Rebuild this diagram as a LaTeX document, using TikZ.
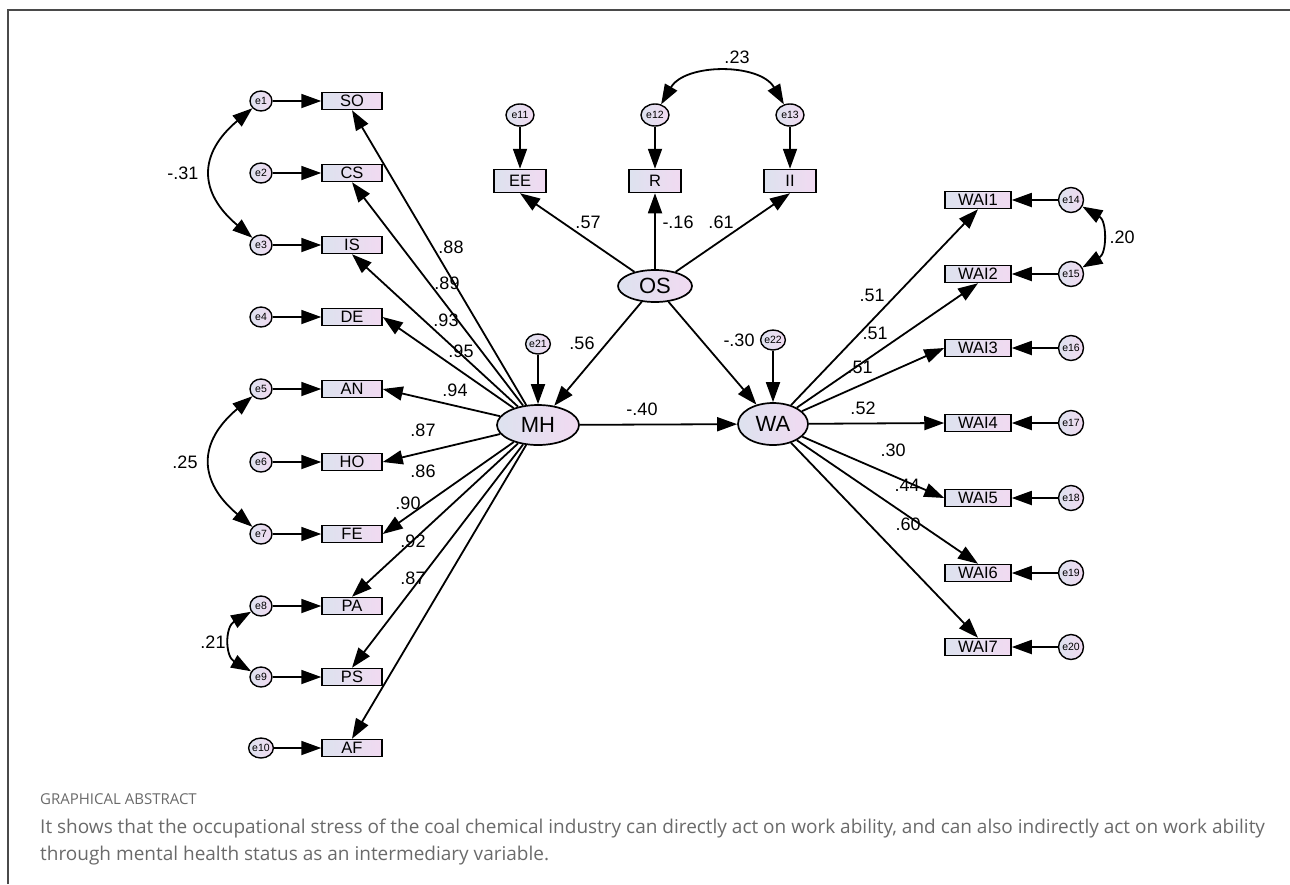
\documentclass[tikz,border=0pt]{standalone}
\usepackage{fontspec}
\setmainfont{Liberation Sans}
\newfontfamily\capfont{Open Sans}
\usetikzlibrary{arrows.meta,shapes.geometric}
\definecolor{fl}{HTML}{DDE2EF}
\definecolor{fr}{HTML}{F1DAF1}
\definecolor{capgray}{HTML}{6A6A6A}
\definecolor{framegray}{HTML}{4A4A4A}
\tikzset{
	obs/.style={draw,line width=1.5pt,left color=fl,right color=fr,minimum width=60pt,minimum height=17pt,inner sep=0pt,font=\fontsize{16.5}{16.5}\selectfont},
	obsbig/.style={obs,minimum width=52pt,minimum height=23pt},
	wai/.style={obs,minimum width=66pt},
	lat/.style={ellipse,draw,line width=1.7pt,left color=fl,right color=fr,inner sep=0pt,font=\fontsize{22}{22}\selectfont},
	err/.style={ellipse,draw,line width=1.4pt,left color=fl,right color=fr,minimum width=22pt,minimum height=20pt,inner sep=0pt,font=\fontsize{10.5}{10.5}\selectfont},
	arr/.style={line width=1.8pt,-{Triangle[length=20pt,width=14pt]}},
	cov/.style={line width=1.8pt,{Triangle[length=20pt,width=14pt]}-{Triangle[length=20pt,width=14pt]}},
	coef/.style={font=\fontsize{18}{18}\selectfont,inner sep=0pt}
}

\begin{document}
\begin{tikzpicture}[x=1pt,y=-1pt]
	\useasboundingbox (0,0) rectangle (1290,884);
	\draw [framegray,line width=1.5pt] (8,884) -- (8,10) -- (1290,10);

	\node [lat,minimum width=74pt,minimum height=32pt] (OS) at (655,286) {OS};
	\node [lat,minimum width=82pt,minimum height=40pt] (MH) at (538,425) {MH};
	\node [lat,minimum width=70pt,minimum height=42pt] (WA) at (773,424) {WA};
	\node [err] (e21) at (538,344) {e21};
	\node [err] (e22) at (773,340) {e22};

	\node [obs] (SO) at (352,101) {SO};
	\node [obs] (CS) at (352,173) {CS};
	\node [obs] (IS) at (352,245) {IS};
	\node [obs] (DE) at (352,317) {DE};
	\node [obs] (AN) at (352,389) {AN};
	\node [obs] (HO) at (352,462) {HO};
	\node [obs] (FE) at (352,534) {FE};
	\node [obs] (PA) at (352,606) {PA};
	\node [obs] (PS) at (352,677) {PS};
	\node [obs] (AF) at (352,748) {AF};
	\node [err] (e1) at (261,101) {e1};
	\node [err] (e2) at (261,173) {e2};
	\node [err] (e3) at (261,245) {e3};
	\node [err] (e4) at (261,317) {e4};
	\node [err] (e5) at (261,389) {e5};
	\node [err] (e6) at (261,462) {e6};
	\node [err] (e7) at (261,534) {e7};
	\node [err] (e8) at (261,606) {e8};
	\node [err] (e9) at (261,677) {e9};
	\node [err] (e10) at (261,748) {e10};

	\node [obsbig] (EE) at (520,181) {EE};
	\node [obsbig] (R) at (655,181) {R};
	\node [obsbig] (II) at (790,181) {II};
	\node [err,minimum width=28pt,minimum height=22pt] (e11) at (520,115) {e11};
	\node [err,minimum width=28pt,minimum height=22pt] (e12) at (655,115) {e12};
	\node [err,minimum width=28pt,minimum height=22pt] (e13) at (790,115) {e13};

	\node [wai] (WAI1) at (978,200) {WAI1};
	\node [wai] (WAI2) at (978,274) {WAI2};
	\node [wai] (WAI3) at (978,348) {WAI3};
	\node [wai] (WAI4) at (978,423) {WAI4};
	\node [wai] (WAI5) at (978,498) {WAI5};
	\node [wai] (WAI6) at (978,573) {WAI6};
	\node [wai] (WAI7) at (978,647) {WAI7};
	\node [err,minimum width=25pt,minimum height=25pt] (e14) at (1071,200) {e14};
	\node [err,minimum width=25pt,minimum height=25pt] (e15) at (1071,274) {e15};
	\node [err,minimum width=25pt,minimum height=25pt] (e16) at (1071,348) {e16};
	\node [err,minimum width=25pt,minimum height=25pt] (e17) at (1071,423) {e17};
	\node [err,minimum width=25pt,minimum height=25pt] (e18) at (1071,498) {e18};
	\node [err,minimum width=25pt,minimum height=25pt] (e19) at (1071,573) {e19};
	\node [err,minimum width=25pt,minimum height=25pt] (e20) at (1071,647) {e20};

	\draw [arr] (e1) -- (SO);
	\draw [arr] (e2) -- (CS);
	\draw [arr] (e3) -- (IS);
	\draw [arr] (e4) -- (DE);
	\draw [arr] (e5) -- (AN);
	\draw [arr] (e6) -- (HO);
	\draw [arr] (e7) -- (FE);
	\draw [arr] (e8) -- (PA);
	\draw [arr] (e9) -- (PS);
	\draw [arr] (e10) -- (AF);
	\draw [arr] (e11) -- (EE);
	\draw [arr] (e12) -- (R);
	\draw [arr] (e13) -- (II);
	\draw [arr] (e14) -- (WAI1);
	\draw [arr] (e15) -- (WAI2);
	\draw [arr] (e16) -- (WAI3);
	\draw [arr] (e17) -- (WAI4);
	\draw [arr] (e18) -- (WAI5);
	\draw [arr] (e19) -- (WAI6);
	\draw [arr] (e20) -- (WAI7);
	\draw [arr] (e21) -- (MH);
	\draw [arr] (e22) -- (WA);

	\draw [arr] (MH) -- (SO.south);
	\draw [arr] (MH) -- (CS.south);
	\draw [arr] (MH) -- (IS.south);
	\draw [arr] (MH) -- (DE.east);
	\draw [arr] (MH) -- (AN.east);
	\draw [arr] (MH) -- (HO.east);
	\draw [arr] (MH) -- (FE.east);
	\draw [arr] (MH) -- (PA.north);
	\draw [arr] (MH) -- (PS.north);
	\draw [arr] (MH) -- (AF.north);
	\draw [arr] (OS) -- (EE.south);
	\draw [arr] (OS) -- (R.south);
	\draw [arr] (OS) -- (II.south);
	\draw [arr] (OS) -- (MH);
	\draw [arr] (OS) -- (WA);
	\draw [arr] (MH) -- (WA);
	\draw [arr] (WA) -- (WAI1.south);
	\draw [arr] (WA) -- (WAI2.south);
	\draw [arr] (WA) -- (WAI3.west);
	\draw [arr] (WA) -- (WAI4.west);
	\draw [arr] (WA) -- (WAI5.west);
	\draw [arr] (WA) -- (WAI6.north);
	\draw [arr] (WA) -- (WAI7.north);

	\draw [cov] (e1) to[out=220,in=140,looseness=1.4] (e3);
	\draw [cov] (e5) to[out=220,in=140,looseness=1.4] (e7);
	\draw [cov] (e8) to[out=210,in=150,looseness=1.3] (e9);
	\draw [cov] (e12) to[out=60,in=120] (e13);
	\draw [cov] (e14) to[out=-30,in=30,looseness=1.2] (e15);

	\node [coef] (c1) at (451,247) {.88};
	\node [coef] (c2) at (447,283) {.89};
	\node [coef] (c3) at (446,320) {.93};
	\node [coef] (c4) at (461,351) {.95};
	\node [coef] (c5) at (455,390) {.94};
	\node [coef] (c6) at (423,430) {.87};
	\node [coef] (c7) at (423,471) {.86};
	\node [coef] (c8) at (408,503) {.90};
	\node [coef] (c9) at (413,541) {.92};
	\node [coef] (c10) at (413,578) {.87};
	\node [coef] (c11) at (588,222) {.57};
	\node [coef] (c12) at (678,222) {-.16};
	\node [coef] (c13) at (721,222) {.61};
	\node [coef] (c14) at (582,343) {.56};
	\node [coef] (c15) at (739,340) {-.30};
	\node [coef] (c16) at (642,409) {-.40};
	\node [coef] (c17) at (737,57) {.23};
	\node [coef] (c18) at (872,295) {.51};
	\node [coef] (c19) at (875,333) {.51};
	\node [coef] (c20) at (860,367) {.51};
	\node [coef] (c21) at (863,408) {.52};
	\node [coef] (c22) at (893,450) {.30};
	\node [coef] (c23) at (907,485) {.44};
	\node [coef] (c24) at (908,524) {.60};
	\node [coef] (c25) at (1122,237) {.20};
	\node [coef] (c26) at (183,173) {-.31};
	\node [coef] (c27) at (185,462) {.25};
	\node [coef] (c28) at (213,642) {.21};

	\node [anchor=base west,inner sep=0pt,text=capgray,font=\capfont\fontsize{15}{15}\selectfont] (gatitle) at (40,804) {GRAPHICAL ABSTRACT};
	\node [anchor=base west,inner sep=0pt,text=capgray,font=\capfont\fontsize{19}{19}\selectfont] (galine1) at (40,833) {It shows that the occupational stress of the coal chemical industry can directly act on work ability, and can also indirectly act on work ability};
	\node [anchor=base west,inner sep=0pt,text=capgray,font=\capfont\fontsize{19}{19}\selectfont] (galine2) at (40,860) {through mental health status as an intermediary variable.};
\end{tikzpicture}
\end{document}
